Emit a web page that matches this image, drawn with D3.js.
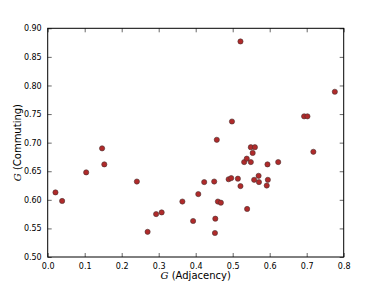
<!DOCTYPE html>
<html><head><meta charset="utf-8">
<script src="https://cdn.jsdelivr.net/npm/d3@7"></script>
<style>body{margin:0;background:#fff}svg{display:block}</style>
</head><body>
<svg id="c" width="382" height="286"></svg>
<script>
const adjacency = [0.021,0.039,0.104,0.147,0.153,0.241,0.270,0.293,0.308,0.364,0.393,0.407,0.423,0.450,0.453,0.452,0.460,0.468,0.457,0.489,0.496,0.498,0.514,0.521,0.521,0.539,0.531,0.538,0.549,0.549,0.560,0.554,0.558,0.570,0.571,0.594,0.595,0.592,0.623,0.693,0.702,0.718,0.776];
const commuting = [0.613,0.598,0.648,0.690,0.662,0.632,0.544,0.575,0.578,0.597,0.563,0.610,0.631,0.632,0.567,0.542,0.597,0.595,0.705,0.636,0.638,0.737,0.637,0.624,0.877,0.584,0.666,0.672,0.666,0.692,0.692,0.682,0.635,0.642,0.631,0.662,0.635,0.625,0.666,0.746,0.746,0.684,0.789];
const xTicks = [0.0,0.1,0.2,0.3,0.4,0.5,0.6,0.7,0.8];
const yTicks = [0.50,0.55,0.60,0.65,0.70,0.75,0.80,0.85,0.90];

const svg = d3.select("#c");
const L=47.7,R=343.7,T=28.3,B=257;
const x = d3.scaleLinear().domain([0,0.8]).range([L,R]);
const y = d3.scaleLinear().domain([0.5,0.9]).range([B,T]);
const font = "'DejaVu Sans', sans-serif";

const ax = (g)=>{g.selectAll("path").remove();g.selectAll("line").attr("stroke","#000").attr("stroke-width",0.6);g.selectAll("text").attr("font-family",font).attr("font-size","8px").attr("fill","#000");};

svg.append("g").attr("transform",`translate(0,${B})`)
  .call(d3.axisBottom(x).tickValues(xTicks).tickFormat(d3.format(".1f")).tickSizeInner(-4).tickSizeOuter(0).tickPadding(6)).call(ax);
svg.append("g").attr("transform",`translate(0,${T})`)
  .call(d3.axisTop(x).tickValues(xTicks).tickFormat("").tickSizeInner(-4).tickSizeOuter(0)).call(ax);
svg.append("g").attr("transform",`translate(${L},0)`)
  .call(d3.axisLeft(y).tickValues(yTicks).tickFormat(d3.format(".2f")).tickSizeInner(-4).tickSizeOuter(0).tickPadding(6)).call(ax);
svg.append("g").attr("transform",`translate(${R},0)`)
  .call(d3.axisRight(y).tickValues(yTicks).tickFormat("").tickSizeInner(-4).tickSizeOuter(0)).call(ax);

svg.append("rect").attr("x",L).attr("y",T).attr("width",R-L).attr("height",B-T)
  .attr("fill","none").attr("stroke","#000").attr("stroke-width",1);

svg.append("g").selectAll("circle").data(adjacency.map((a,i)=>[a,commuting[i]])).join("circle")
  .attr("cx",d=>x(d[0])).attr("cy",d=>y(d[1])).attr("r",2.6)
  .attr("fill","#b02a2a").attr("stroke","#4a3333").attr("stroke-width",0.6);

const xl = svg.append("text").attr("x",(L+R)/2).attr("y",279).attr("text-anchor","middle")
  .attr("font-family",font).attr("font-size","10px");
xl.append("tspan").attr("font-family","'DejaVu Serif', serif").attr("font-style","italic").text("G");
xl.append("tspan").text(" (Adjacency)");

const yl = svg.append("text").attr("transform",`translate(21,${(T+B)/2}) rotate(-90)`).attr("text-anchor","middle")
  .attr("font-family",font).attr("font-size","10px");
yl.append("tspan").attr("font-family","'DejaVu Serif', serif").attr("font-style","italic").text("G");
yl.append("tspan").text(" (Commuting)");
</script>
</body></html>
